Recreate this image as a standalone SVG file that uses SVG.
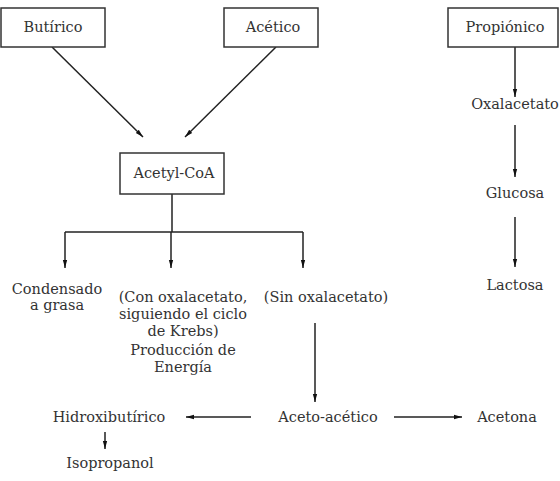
<svg xmlns="http://www.w3.org/2000/svg" width="560" height="481" viewBox="0 0 560 481">
<defs>
<style>
text{font-family:'DejaVu Serif','Liberation Serif',serif;font-size:14.5px;fill:#333;text-anchor:middle;}
.box{fill:#fff;stroke:#333;stroke-width:1.5;}
.c{stroke:#222;stroke-width:1.5;fill:none;}
</style>
<marker id="ah" markerWidth="8" markerHeight="12" viewBox="0 0 12 8" refX="12" refY="4" orient="auto" markerUnits="userSpaceOnUse">
<path d="M0,0.8 L12,4 L0,7.2 Z" fill="#111"/>
</marker>
</defs>
<rect width="560" height="481" fill="#fff"/>
<g id="connectors">
<line class="c" x1="52" y1="47" x2="143" y2="137" marker-end="url(#ah)"/>
<line class="c" x1="276" y1="47" x2="185" y2="137" marker-end="url(#ah)"/>
<line class="c" x1="172" y1="194" x2="172" y2="232"/>
<polyline class="c" points="65,232 303,232"/>
<line class="c" x1="65" y1="232" x2="65" y2="268" marker-end="url(#ah)"/>
<line class="c" x1="171" y1="232" x2="171" y2="268" marker-end="url(#ah)"/>
<line class="c" x1="303" y1="232" x2="303" y2="268" marker-end="url(#ah)"/>
<line class="c" x1="315" y1="323" x2="315" y2="402" marker-end="url(#ah)"/>
<line class="c" x1="251" y1="417" x2="186" y2="417" marker-end="url(#ah)"/>
<line class="c" x1="394" y1="417" x2="462" y2="417" marker-end="url(#ah)"/>
<line class="c" x1="105" y1="432" x2="105" y2="449" marker-end="url(#ah)"/>
<line class="c" x1="515" y1="47" x2="515" y2="97" marker-end="url(#ah)"/>
<line class="c" x1="515" y1="125" x2="515" y2="177" marker-end="url(#ah)"/>
<line class="c" x1="515" y1="217" x2="515" y2="267" marker-end="url(#ah)"/>
</g>
<g id="butirico"><rect class="box" x="1" y="8" width="104" height="39"/><text x="53" y="32">Butírico</text></g>
<g id="acetico"><rect class="box" x="224" y="8" width="94" height="39"/><text x="273" y="32">Acético</text></g>
<g id="propionico"><rect class="box" x="448" y="8" width="110" height="39"/><text x="505" y="32">Propiónico</text></g>
<g id="acetylcoa"><rect class="box" x="120" y="153" width="104" height="41"/><text x="174" y="178">Acetyl-CoA</text></g>
<g id="condensado"><text x="57" y="294">Condensado</text><text x="57" y="310">a grasa</text></g>
<g id="conoxal"><text x="183" y="302">(Con oxalacetato,</text><text x="183" y="319">siguiendo el ciclo</text><text x="183" y="336">de Krebs)</text><text x="183" y="355">Producción de</text><text x="183" y="372">Energía</text></g>
<g id="sinoxal"><text x="326" y="302">(Sin oxalacetato)</text></g>
<g id="hidroxi"><text x="109" y="422">Hidroxibutírico</text></g>
<g id="acetoacetico"><text x="328" y="422">Aceto-acético</text></g>
<g id="acetona"><text x="507" y="422">Acetona</text></g>
<g id="isopropanol"><text x="110" y="468">Isopropanol</text></g>
<g id="oxalacetato"><text x="515" y="109">Oxalacetato</text></g>
<g id="glucosa"><text x="515" y="198">Glucosa</text></g>
<g id="lactosa"><text x="515" y="290">Lactosa</text></g>
</svg>
